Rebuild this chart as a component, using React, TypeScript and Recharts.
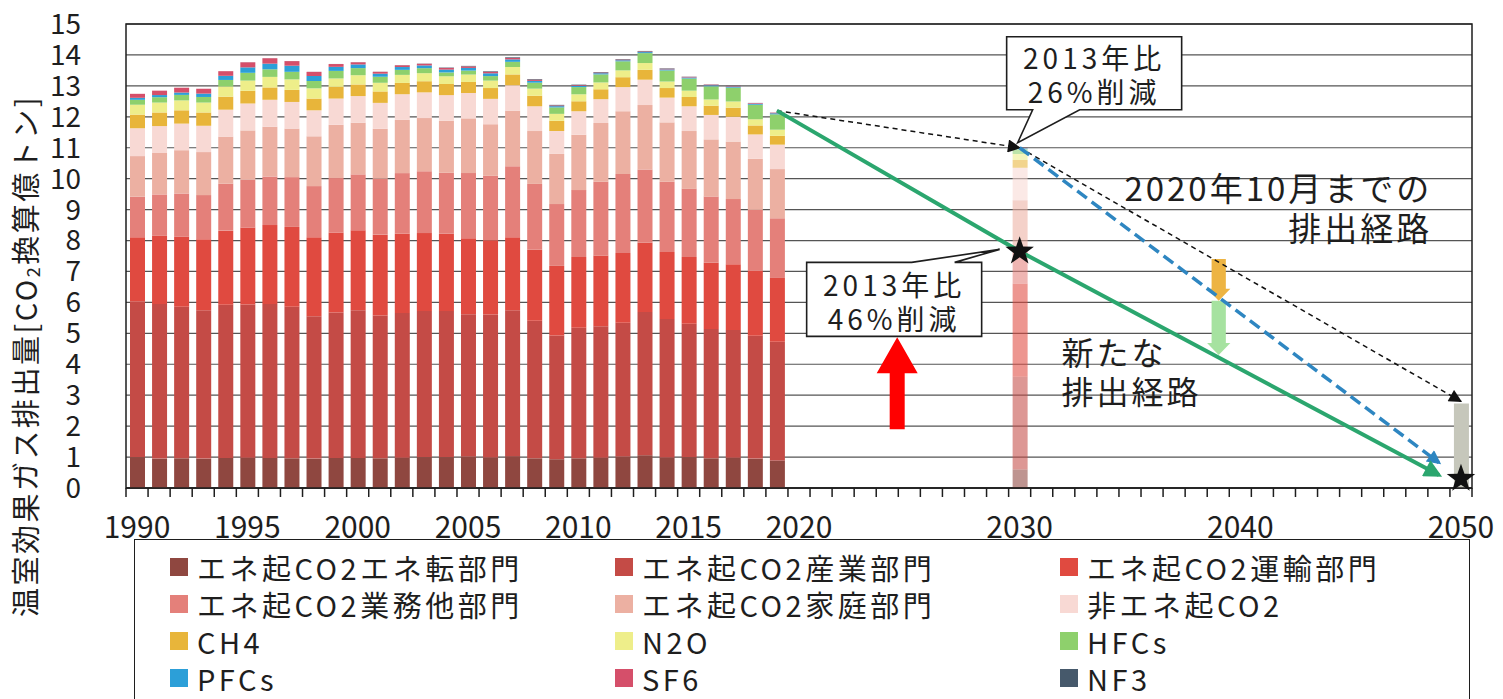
import React from "react";
import {
  Bar,
  CartesianGrid,
  Cell,
  ComposedChart,
  Line,
  ReferenceArea,
  ReferenceDot,
  Scatter,
  XAxis,
  YAxis,
} from "recharts";

const FONT = '"Noto Sans CJK JP", "Noto Sans", sans-serif';
const INK = "#1e1e1e";

// Bars: 1990–2019 actuals, then the 2030 target bar (drawn faded)
const YEARS = [
  1990, 1991, 1992, 1993, 1994, 1995, 1996, 1997, 1998, 1999,
  2000, 2001, 2002, 2003, 2004, 2005, 2006, 2007, 2008, 2009,
  2010, 2011, 2012, 2013, 2014, 2015, 2016, 2017, 2018, 2019, 2030,
];
const FADED_YEAR = 2030;

// 億トン CO2 換算
const TENKAN = [1.0, 0.95, 0.96, 0.95, 0.97, 0.98, 0.97, 0.96, 0.95, 0.97, 0.97, 0.96, 0.98, 1.0, 1.0, 1.02, 0.99, 1.03, 0.96, 0.93, 0.96, 0.98, 1.02, 1.06, 0.99, 1.0, 0.96, 0.98, 0.95, 0.89, 0.6];
const SANGYO = [5.03, 5.0, 4.9, 4.8, 4.95, 4.95, 4.98, 4.9, 4.6, 4.7, 4.78, 4.62, 4.68, 4.72, 4.72, 4.6, 4.62, 4.72, 4.45, 4.0, 4.22, 4.25, 4.32, 4.63, 4.47, 4.31, 4.18, 4.13, 3.97, 3.84, 3.0];
const UNYU = [2.08, 2.2, 2.26, 2.29, 2.4, 2.49, 2.55, 2.58, 2.56, 2.59, 2.58, 2.61, 2.57, 2.52, 2.5, 2.45, 2.4, 2.36, 2.29, 2.25, 2.29, 2.29, 2.26, 2.24, 2.17, 2.16, 2.14, 2.12, 2.1, 2.06, 3.0];
const GYOMU = [1.31, 1.34, 1.4, 1.43, 1.52, 1.55, 1.57, 1.61, 1.65, 1.76, 1.81, 1.81, 1.95, 2.0, 1.97, 2.11, 2.08, 2.29, 2.13, 2.0, 2.16, 2.38, 2.55, 2.37, 2.27, 2.2, 2.14, 2.11, 1.97, 1.93, 1.2];
const KATEI = [1.31, 1.34, 1.4, 1.39, 1.52, 1.59, 1.61, 1.57, 1.61, 1.72, 1.67, 1.61, 1.72, 1.72, 1.68, 1.77, 1.67, 1.8, 1.71, 1.62, 1.79, 1.9, 2.03, 2.08, 1.92, 1.87, 1.85, 1.86, 1.65, 1.59, 1.5];
const HIENE = [0.9, 0.87, 0.86, 0.85, 0.87, 0.87, 0.87, 0.86, 0.84, 0.85, 0.86, 0.84, 0.83, 0.83, 0.83, 0.82, 0.82, 0.82, 0.8, 0.74, 0.76, 0.77, 0.78, 0.82, 0.8, 0.8, 0.79, 0.8, 0.79, 0.79, 1.05];
const CH4 = [0.44, 0.44, 0.43, 0.43, 0.42, 0.41, 0.4, 0.39, 0.38, 0.38, 0.375, 0.37, 0.365, 0.36, 0.36, 0.356, 0.35, 0.35, 0.34, 0.33, 0.322, 0.32, 0.32, 0.32, 0.31, 0.3, 0.3, 0.295, 0.29, 0.285, 0.25];
const N2O = [0.32, 0.32, 0.32, 0.32, 0.33, 0.33, 0.34, 0.34, 0.33, 0.27, 0.3, 0.28, 0.26, 0.26, 0.25, 0.24, 0.24, 0.24, 0.23, 0.225, 0.225, 0.22, 0.22, 0.218, 0.21, 0.205, 0.2, 0.2, 0.2, 0.198, 0.2];
const HFCS = [0.159, 0.173, 0.178, 0.181, 0.211, 0.252, 0.246, 0.244, 0.237, 0.244, 0.229, 0.195, 0.162, 0.162, 0.124, 0.128, 0.146, 0.167, 0.193, 0.209, 0.233, 0.261, 0.294, 0.321, 0.358, 0.393, 0.425, 0.449, 0.47, 0.497, 0.15];
const PFCS = [0.065, 0.07, 0.076, 0.109, 0.134, 0.176, 0.182, 0.198, 0.162, 0.131, 0.119, 0.099, 0.092, 0.089, 0.092, 0.086, 0.09, 0.079, 0.057, 0.04, 0.042, 0.038, 0.034, 0.033, 0.034, 0.033, 0.034, 0.035, 0.035, 0.034, 0.03];
const SF6 = [0.129, 0.142, 0.156, 0.157, 0.15, 0.164, 0.175, 0.148, 0.134, 0.091, 0.07, 0.061, 0.057, 0.054, 0.053, 0.051, 0.052, 0.047, 0.042, 0.024, 0.024, 0.022, 0.022, 0.021, 0.021, 0.021, 0.022, 0.021, 0.021, 0.02, 0.02];
const NF3 = [0.001, 0.001, 0.001, 0.001, 0.001, 0.002, 0.002, 0.002, 0.002, 0.002, 0.003, 0.003, 0.004, 0.006, 0.013, 0.015, 0.017, 0.021, 0.019, 0.018, 0.014, 0.017, 0.016, 0.016, 0.014, 0.006, 0.006, 0.004, 0.003, 0.003, 0.005];

const SERIES = [
  { key: "tenkan", name: "エネ起CO2エネ転部門", color: "#8f4740", values: TENKAN },
  { key: "sangyo", name: "エネ起CO2産業部門", color: "#c44b46", values: SANGYO },
  { key: "unyu", name: "エネ起CO2運輸部門", color: "#e04a40", values: UNYU },
  { key: "gyomu", name: "エネ起CO2業務他部門", color: "#e4807a", values: GYOMU },
  { key: "katei", name: "エネ起CO2家庭部門", color: "#ecb0a2", values: KATEI },
  { key: "hiene", name: "非エネ起CO2", color: "#f8d9d4", values: HIENE },
  { key: "ch4", name: "CH4", color: "#e8b53a", values: CH4 },
  { key: "n2o", name: "N2O", color: "#eeee8a", values: N2O },
  { key: "hfcs", name: "HFCs", color: "#8ed06c", values: HFCS },
  { key: "pfcs", name: "PFCs", color: "#2c9fd8", values: PFCS },
  { key: "sf6", name: "SF6", color: "#d54f6a", values: SF6 },
  { key: "nf3", name: "NF3", color: "#46596b", values: NF3 },
];

// paths
const NEW_PATH_YEARS = [2019, 2030, 2049];
const NEW_PATH_VALUES = [12.2, 7.65, 0.42];
const OLD_TARGET_YEARS = [2030, 2049];
const OLD_TARGET_VALUES = [11.0, 0.82];
const PREV_A_YEARS = [2019, 2030];
const PREV_A_VALUES = [12.2, 11.0];
const PREV_B_YEARS = [2030, 2050];
const PREV_B_VALUES = [11.0, 2.8];
const STAR_YEARS = [2030, 2050];
const STAR_VALUES = [7.65, 0.3];
const RESIDUAL_YEAR = 2050;
const RESIDUAL_VALUE = 2.73;
// reduction arrows at 2039: [bottom, top]
const ARROW_YEAR = 2039;
const GREEN_ARROW = [4.3, 6.05];
const GOLD_ARROW = [6.05, 7.4];

const LABEL_YEARS = [1990, 1995, 2000, 2005, 2010, 2015, 2020, 2030, 2040, 2050];
const Y_TICKS = [0, 1, 2, 3, 4, 5, 6, 7, 8, 9, 10, 11, 12, 13, 14, 15];
const X_MIN = 1989.5;
const X_MAX = 2050.5;
const BOUNDARY_TICKS = Array.from({ length: X_MAX - X_MIN + 1 }, (_, i) => X_MIN + i);
const X_TICKS = [...BOUNDARY_TICKS, ...LABEL_YEARS].sort((a, b) => a - b);

type Row = { year: number; [k: string]: number | undefined };
const rowMap = new Map<number, Row>();
const rowOf = (y: number) => {
  if (!rowMap.has(y)) rowMap.set(y, { year: y });
  return rowMap.get(y)!;
};
YEARS.forEach((y, i) => SERIES.forEach((s) => (rowOf(y)[s.key] = s.values[i])));
rowOf(RESIDUAL_YEAR).residual = RESIDUAL_VALUE;
rowOf(ARROW_YEAR).base = GREEN_ARROW[0];
rowOf(ARROW_YEAR).arrowGreen = GREEN_ARROW[1] - GREEN_ARROW[0];
rowOf(ARROW_YEAR).arrowGold = GOLD_ARROW[1] - GOLD_ARROW[0];
NEW_PATH_YEARS.forEach((y, i) => (rowOf(y).newPath = NEW_PATH_VALUES[i]));
OLD_TARGET_YEARS.forEach((y, i) => (rowOf(y).oldTarget = OLD_TARGET_VALUES[i]));
PREV_A_YEARS.forEach((y, i) => (rowOf(y).prevA = PREV_A_VALUES[i]));
PREV_B_YEARS.forEach((y, i) => (rowOf(y).prevB = PREV_B_VALUES[i]));
const DATA = [...rowMap.values()].sort((a, b) => a.year - b.year);
const STAR_DATA = STAR_YEARS.map((y, i) => ({ year: y, star: STAR_VALUES[i] }));

function starPath(cx: number, cy: number, R: number, r: number) {
  let d = "";
  for (let i = 0; i < 10; i++) {
    const rad = i % 2 === 0 ? R : r;
    const a = -Math.PI / 2 + (i * Math.PI) / 5;
    d += `${i === 0 ? "M" : "L"}${cx + rad * Math.cos(a)},${cy + rad * Math.sin(a)}`;
  }
  return d + "Z";
}

const StarShape = (p: any) => <path d={starPath(p.cx, p.cy, 15, 6)} fill="#111" />;

const DownArrow = (color: string) => (p: any) => {
  const { x, y, width, height } = p;
  if (!height || height <= 0) return null;
  const cx = x + width / 2;
  const sw = width * 0.95;
  const hw = width * 1.55;
  const yb = y + height;
  const hh = 12;
  const pts = [
    [cx - sw / 2, y],
    [cx + sw / 2, y],
    [cx + sw / 2, yb - hh],
    [cx + hw / 2, yb - hh],
    [cx, yb],
    [cx - hw / 2, yb - hh],
    [cx - sw / 2, yb - hh],
  ]
    .map((q) => q.join(","))
    .join(" ");
  return <polygon points={pts} fill={color} />;
};

const textStyle = { fontFamily: FONT, fill: INK } as const;

const Callout26 = (p: any) => {
  const { cx, cy } = p;
  const L = cx - 13, R = cx + 162, T = cy - 111, B = cy - 38;
  const d = `M${L},${T} H${R} V${B} H${cx + 60} L${cx - 2},${cy - 5} L${cx + 13},${B} H${L} Z`;
  const mx = (L + R) / 2;
  return (
    <g>
      <path d={d} fill="#fff" stroke={INK} strokeWidth={1.6} />
      <text x={mx} y={cy - 91} textAnchor="middle" dominantBaseline="central" fontSize={28} letterSpacing={4} style={textStyle}>2013年比</text>
      <text x={mx} y={cy - 57} textAnchor="middle" dominantBaseline="central" fontSize={28} letterSpacing={4} style={textStyle}>26%削減</text>
    </g>
  );
};

const Callout46 = (p: any) => {
  const { cx, cy } = p;
  const L = cx - 213, R = cx - 38, T = cy + 11, B = cy + 85;
  const d = `M${L},${T} H${cx - 108} L${cx - 20},${cy - 2} L${cx - 65},${T} H${R} V${B} H${L} Z`;
  const mx = (L + R) / 2;
  return (
    <g>
      <path d={d} fill="#fff" stroke={INK} strokeWidth={1.6} />
      <text x={mx} y={cy + 33} textAnchor="middle" dominantBaseline="central" fontSize={28} letterSpacing={4} style={textStyle}>2013年比</text>
      <text x={mx} y={cy + 67} textAnchor="middle" dominantBaseline="central" fontSize={28} letterSpacing={4} style={textStyle}>46%削減</text>
    </g>
  );
};

const RedArrow = (p: any) => {
  const { cx, cy } = p;
  const pts = [
    [cx - 7.5, cy],
    [cx + 7.5, cy],
    [cx + 7.5, cy - 56],
    [cx + 20.5, cy - 56],
    [cx, cy - 92],
    [cx - 20.5, cy - 56],
    [cx - 7.5, cy - 56],
  ]
    .map((q) => q.join(","))
    .join(" ");
  return <polygon points={pts} fill="#ff0000" />;
};

const OldPathText = (p: any) => (
  <g>
    <text x={p.cx} y={p.cy} textAnchor="end" dominantBaseline="central" fontSize={33} letterSpacing={3} style={textStyle}>2020年10月までの</text>
    <text x={p.cx} y={p.cy + 40} textAnchor="end" dominantBaseline="central" fontSize={33} letterSpacing={3} style={textStyle}>排出経路</text>
  </g>
);

const NewPathText = (p: any) => (
  <g>
    <text x={p.cx} y={p.cy - 2} textAnchor="start" dominantBaseline="central" fontSize={32} letterSpacing={3} style={textStyle}>新たな</text>
    <text x={p.cx} y={p.cy + 37} textAnchor="start" dominantBaseline="central" fontSize={32} letterSpacing={3} style={textStyle}>排出経路</text>
  </g>
);

const XTick = (p: any) => {
  const { x, y, payload } = p;
  const v = payload.value;
  if (LABEL_YEARS.includes(v)) {
    return (
      <text x={x} y={y + 37} textAnchor="middle" dominantBaseline="central" fontSize={30} style={textStyle}>
        {v}
      </text>
    );
  }
  return <line x1={x} x2={x} y1={y} y2={y + 9} stroke={INK} strokeWidth={1.5} />;
};

const LEGEND_COLS = [170, 615, 1060];
const LEGEND_ROWS = [567, 604, 641, 678];
const LEGEND_BOX = { left: 134, top: 539, right: 1470 };

export default function App() {
  return (
    <div
      style={{
        position: "fixed",
        left: 0,
        top: 0,
        width: 1503,
        height: 699,
        background: "#fff",
        overflow: "hidden",
        fontFamily: FONT,
      }}
    >
      <div style={{ position: "absolute", left: 0, top: 0 }}>
        <ComposedChart
          width={1503}
          height={560}
          data={DATA}
          barSize={15}
          margin={{ top: 24, right: 31, bottom: 0, left: 46 }}
        >
          <defs>
            <marker id="ahGreen" viewBox="0 0 10 10" refX="8" refY="5" markerWidth="22" markerHeight="18" markerUnits="userSpaceOnUse" orient="auto">
              <path d="M0,0 L10,5 L0,10 z" fill="#2ba66e" />
            </marker>
            <marker id="ahBlue" viewBox="0 0 10 10" refX="8" refY="5" markerWidth="16" markerHeight="14" markerUnits="userSpaceOnUse" orient="auto">
              <path d="M0,0 L10,5 L0,10 z" fill="#2e86c1" />
            </marker>
            <marker id="ahBlack" viewBox="0 0 10 10" refX="9" refY="5" markerWidth="16" markerHeight="13" markerUnits="userSpaceOnUse" orient="auto">
              <path d="M0,0 L10,5 L0,10 z" fill="#111" />
            </marker>
          </defs>
          <CartesianGrid vertical={false} stroke="#555" strokeWidth={1.2} />
          <XAxis
            dataKey="year"
            type="number"
            domain={[X_MIN, X_MAX]}
            ticks={X_TICKS}
            interval={0}
            tickSize={0}
            tickMargin={0}
            tickLine={false}
            tick={<XTick />}
            axisLine={{ stroke: INK, strokeWidth: 1.5 }}
            height={72}
          />
          <YAxis
            type="number"
            domain={[0, 15]}
            ticks={Y_TICKS}
            interval={0}
            axisLine={false}
            tickLine={false}
            tickSize={0}
            tickMargin={45}
            width={80}
            tick={{ fontSize: 28, fill: INK, fontFamily: FONT }}
          />
          <Bar dataKey="base" stackId="s" fill="transparent" isAnimationActive={false} />
          {SERIES.map((s) => (
            <Bar key={s.key} dataKey={s.key} name={s.name} stackId="s" fill={s.color} isAnimationActive={false}>
              {DATA.map((r) => (
                <Cell key={r.year} fillOpacity={r.year === FADED_YEAR ? 0.58 : 1} />
              ))}
            </Bar>
          ))}
          <Bar dataKey="residual" stackId="s" fill="#c6c7bb" isAnimationActive={false} />
          <Bar dataKey="arrowGreen" stackId="s" fill="#a6e2a0" shape={DownArrow("#a6e2a0")} isAnimationActive={false} />
          <Bar dataKey="arrowGold" stackId="s" fill="#edb443" shape={DownArrow("#edb443")} isAnimationActive={false} />
          <Line dataKey="prevA" stroke="#111" strokeWidth={1.5} strokeDasharray="5 4" dot={false} activeDot={false} connectNulls isAnimationActive={false} markerEnd="url(#ahBlack)" />
          <Line dataKey="prevB" stroke="#111" strokeWidth={1.5} strokeDasharray="5 4" dot={false} activeDot={false} connectNulls isAnimationActive={false} markerEnd="url(#ahBlack)" />
          <Line dataKey="oldTarget" stroke="#2e86c1" strokeWidth={3.5} strokeDasharray="12 6" dot={false} activeDot={false} connectNulls isAnimationActive={false} markerEnd="url(#ahBlue)" />
          <Line dataKey="newPath" stroke="#2ba66e" strokeWidth={4} dot={false} activeDot={false} connectNulls isAnimationActive={false} markerEnd="url(#ahGreen)" />
          <Scatter data={STAR_DATA} dataKey="star" shape={StarShape} isAnimationActive={false} />
          <ReferenceArea x1={X_MIN} x2={X_MAX} y1={0} y2={15} fill="none" stroke={INK} strokeWidth={1.5} />
          <ReferenceDot x={2030} y={11.0} r={0} shape={Callout26} />
          <ReferenceDot x={2030} y={7.65} r={0} shape={Callout46} />
          <ReferenceDot x={2024.45} y={1.9} r={0} shape={RedArrow} />
          <ReferenceDot x={2048.7} y={9.73} r={0} shape={OldPathText} />
          <ReferenceDot x={2031.9} y={4.35} r={0} shape={NewPathText} />
        </ComposedChart>
      </div>

      <svg style={{ position: "absolute", left: 0, top: 0 }} width={60} height={699}>
        <text
          transform="translate(24,356) rotate(-90)"
          textAnchor="middle"
          dominantBaseline="central"
          fontSize={29}
          letterSpacing={2.5}
          style={textStyle}
        >
          温室効果ガス排出量[CO<tspan fontSize={18} dy={8}>2</tspan>
          <tspan dy={-8}>換算億トン]</tspan>
        </text>
      </svg>

      <div
        style={{
          position: "absolute",
          left: LEGEND_BOX.left,
          top: LEGEND_BOX.top,
          width: LEGEND_BOX.right - LEGEND_BOX.left,
          height: 200,
          border: `1.5px solid ${INK}`,
          boxSizing: "border-box",
        }}
      />
      {SERIES.map((s, i) => (
        <div
          key={s.key}
          style={{
            position: "absolute",
            left: LEGEND_COLS[i % 3],
            top: LEGEND_ROWS[Math.floor(i / 3)] - 15,
            height: 30,
            lineHeight: "30px",
            display: "flex",
            alignItems: "center",
            gap: 9,
            fontSize: 29,
            letterSpacing: 3.5,
            color: INK,
            whiteSpace: "nowrap",
          }}
        >
          <span style={{ width: 18, height: 18, background: s.color, display: "inline-block" }} />
          <span>{s.name}</span>
        </div>
      ))}
    </div>
  );
}
